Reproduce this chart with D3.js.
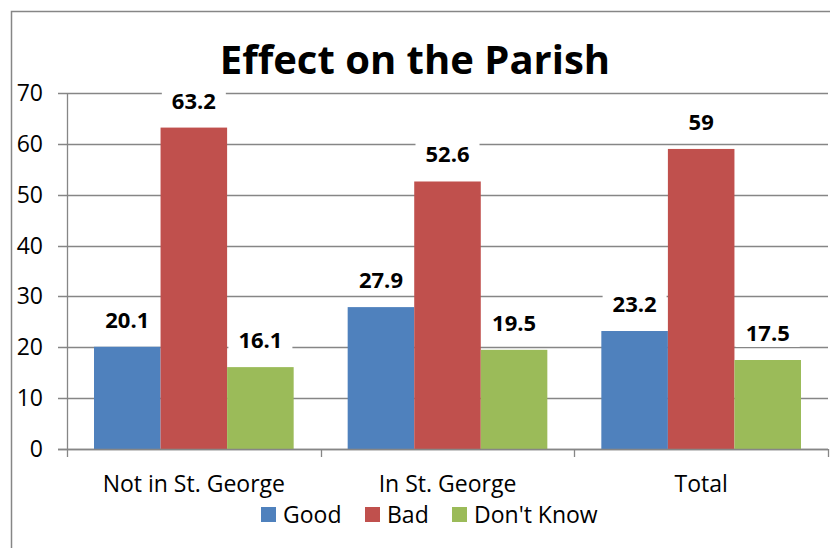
<!DOCTYPE html>
<html>
<head>
<meta charset="utf-8">
<script src="https://cdn.jsdelivr.net/npm/d3@7"></script>
<style>
  body { margin: 0; background: #fff; }
  svg { display: block; font-family: "Open Sans", "Noto Sans", sans-serif; }
</style>
</head>
<body>
<div id="chart"></div>
<script>
var width = 830, height = 548;

var categories = ['Not in St. George', 'In St. George', 'Total'];
var seriesNames = ['Good', 'Bad', "Don't Know"];
var good = [20.1, 27.9, 23.2];
var bad = [63.2, 52.6, 59];
var dontKnow = [16.1, 19.5, 17.5];
var yTicks = [0, 10, 20, 30, 40, 50, 60, 70];
var colors = ['#4f81bd', '#c0504d', '#9bbb59'];

var series = [good, bad, dontKnow];

var svg = d3.select('#chart')
    .append('svg')
    .attr('width', width)
    .attr('height', height);

// outer chart border
svg.append('rect')
    .attr('x', 11.5).attr('y', 11.5)
    .attr('width', 830).attr('height', 560)
    .attr('fill', 'none')
    .attr('stroke', '#868686')
    .attr('stroke-width', 1.5);

var plotLeft = 67, plotRight = 828, plotTop = 93, plotBottom = 449;

var x0 = d3.scaleBand()
    .domain(categories)
    .range([plotLeft, plotRight])
    .paddingInner(0)
    .paddingOuter(0);

var x1 = d3.scaleBand()
    .domain(d3.range(seriesNames.length))
    .range([27, x0.bandwidth() - 27]);

var y = d3.scaleLinear()
    .domain([0, 70])
    .range([plotBottom, plotTop]);

// gridlines
svg.append('g')
    .selectAll('line')
    .data(yTicks)
    .enter()
    .append('line')
    .attr('x1', plotLeft - 9)
    .attr('x2', plotRight)
    .attr('y1', function(d){ return Math.round(y(d)) + 0.5; })
    .attr('y2', function(d){ return Math.round(y(d)) + 0.5; })
    .attr('stroke', '#868686')
    .attr('stroke-width', 1.3);

// y labels
svg.append('g')
    .selectAll('text')
    .data(yTicks)
    .enter()
    .append('text')
    .attr('x', 43)
    .attr('y', function(d){ return y(d) + 8; })
    .attr('text-anchor', 'end')
    .attr('font-size', '23px')
    .attr('fill', '#000')
    .text(function(d){ return d; });

// bars
var groups = svg.append('g')
    .selectAll('g')
    .data(categories)
    .enter()
    .append('g')
    .attr('transform', function(d){ return 'translate(' + x0(d) + ',0)'; });

function rowOf(d, i){
    return series.map(function(s, j){ return {s: j, v: s[i]}; });
}

groups.selectAll('rect.bar')
    .data(rowOf)
    .enter()
    .append('rect')
    .attr('class', 'bar')
    .attr('x', function(d){ return x1(d.s); })
    .attr('width', x1.bandwidth())
    .attr('y', function(d){ return y(d.v); })
    .attr('height', function(d){ return y(0) - y(d.v); })
    .attr('fill', function(d){ return colors[d.s]; });

// value labels with white box
var labels = groups.selectAll('g.lbl')
    .data(rowOf)
    .enter()
    .append('g')
    .attr('class', 'lbl')
    .attr('transform', function(d){
        return 'translate(' + (x1(d.s) + x1.bandwidth() / 2) + ',' + (y(d.v) - 19) + ')';
    });

labels.append('rect')
    .attr('x', -32)
    .attr('y', -24)
    .attr('width', 64)
    .attr('height', 30)
    .attr('fill', '#fff');

labels.append('text')
    .attr('text-anchor', 'middle')
    .attr('font-size', '22px')
    .attr('font-weight', 'bold')
    .attr('fill', '#000')
    .text(function(d){ return d.v; });

// axes lines
svg.append('line')
    .attr('x1', plotLeft + 0.5).attr('x2', plotLeft + 0.5)
    .attr('y1', plotTop).attr('y2', plotBottom + 8)
    .attr('stroke', '#868686').attr('stroke-width', 1.3);

svg.append('line')
    .attr('x1', plotLeft - 9).attr('x2', plotRight)
    .attr('y1', Math.round(y(0)) + 0.5).attr('y2', Math.round(y(0)) + 0.5)
    .attr('stroke', '#868686').attr('stroke-width', 1.5);

// x ticks at category boundaries
svg.append('g')
    .selectAll('line')
    .data(categories)
    .enter()
    .append('line')
    .attr('x1', function(d){ return Math.round(x0(d) + x0.bandwidth()) + 0.5; })
    .attr('x2', function(d){ return Math.round(x0(d) + x0.bandwidth()) + 0.5; })
    .attr('y1', plotBottom)
    .attr('y2', plotBottom + 8)
    .attr('stroke', '#868686').attr('stroke-width', 1.3);

// category labels
svg.append('g')
    .selectAll('text')
    .data(categories)
    .enter()
    .append('text')
    .attr('x', function(d){ return x0(d) + x0.bandwidth() / 2; })
    .attr('y', 492)
    .attr('text-anchor', 'middle')
    .attr('font-size', '23px')
    .attr('fill', '#000')
    .text(function(d){ return d; });

// title
svg.append('text')
    .attr('x', 415)
    .attr('y', 74)
    .attr('text-anchor', 'middle')
    .attr('font-size', '40px')
    .attr('font-weight', 'bold')
    .attr('fill', '#000')
    .text('Effect on the Parish');

// legend
var legendX = [261, 365, 452];
var legend = svg.append('g')
    .selectAll('g')
    .data(seriesNames)
    .enter()
    .append('g')
    .attr('transform', function(d, i){ return 'translate(' + legendX[i] + ',507)'; });

legend.append('rect')
    .attr('width', 15).attr('height', 15)
    .attr('fill', function(d, i){ return colors[i]; });

legend.append('text')
    .attr('x', 22)
    .attr('y', 16)
    .attr('font-size', '23px')
    .attr('fill', '#000')
    .text(function(d){ return d; });
</script>
</body>
</html>
